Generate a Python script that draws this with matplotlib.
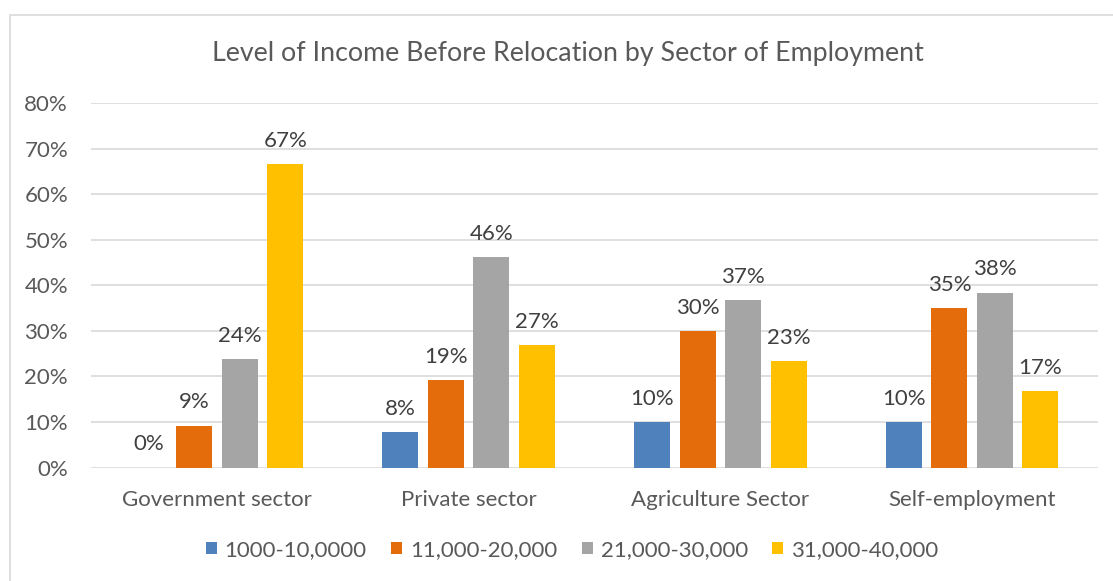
import numpy as np
import matplotlib.pyplot as plt
from matplotlib.patches import Rectangle

plt.rcParams['font.family'] = ['Lato', 'DejaVu Sans']

# Datos del gráfico
sectors = ['Government sector', 'Private sector', 'Agriculture Sector', 'Self-employment']
income_levels = ['1000-10,0000', '11,000-20,000', '21,000-30,000', '31,000-40,000']
inc_1000_10000 = [0.0, 7.7, 10.0, 10.0]
inc_11000_20000 = [9.2, 19.2, 30.0, 35.0]
inc_21000_30000 = [23.8, 46.2, 36.7, 38.4]
inc_31000_40000 = [66.7, 26.9, 23.3, 16.7]
series = [inc_1000_10000, inc_11000_20000, inc_21000_30000, inc_31000_40000]
colors = ['#4f81bd', '#e46c0a', '#a5a5a5', '#ffc000']
text_color = '#595959'

fig = plt.figure(figsize=(11.13, 5.81), dpi=100)
ax = fig.add_axes([91 / 1113, 113.5 / 581, 1007 / 1113, 364.2 / 581])

# Marco del área del gráfico
fig.patches.append(Rectangle((9.5 / 1113, -0.1), 1.2, (581 - 14.5) / 581 + 0.1,
                             transform=fig.transFigure, fill=False,
                             edgecolor='#d9d9d9', linewidth=1.2))

x = np.arange(len(sectors))
width = 0.143
pitch = 0.181
for i, (vals, col, lab) in enumerate(zip(series, colors, income_levels)):
    pos = x + (i - 1.5) * pitch
    bars = ax.bar(pos, vals, width, color=col, label=lab, zorder=3)
    for b, v in zip(bars, vals):
        ax.annotate(f'{v:.0f}%', (b.get_x() + b.get_width() / 2, v),
                    xytext=(0, 9.5), textcoords='offset points',
                    ha='center', va='bottom', fontsize=16, color='#404040')

ax.set_xlim(-0.5, 3.5)
ax.set_ylim(0, 80)
ax.set_yticks(np.arange(0, 81, 10))
ax.set_yticklabels([f'{t}%' for t in range(0, 81, 10)])
ax.set_xticks(x)
ax.set_xticklabels(sectors)
ax.tick_params(axis='both', length=0, labelsize=16, labelcolor=text_color)
ax.tick_params(axis='x', pad=16.5)
ax.tick_params(axis='y', pad=16.5)
ax.grid(axis='y', color='#d9d9d9', linewidth=1.2, zorder=0)
for s in ax.spines.values():
    s.set_visible(False)

fig.text(568 / 1113, 1 - 53 / 581, 'Level of Income Before Relocation by Sector of Employment',
         ha='center', va='center', fontsize=19.3, color=text_color)

fig.legend(loc='center', bbox_to_anchor=(572 / 1113, 1 - 550 / 581), ncol=4,
           frameon=False, fontsize=16, labelcolor=text_color, handlelength=0.5,
           handleheight=0.5, handletextpad=0.35, columnspacing=1.1)

fig.savefig('out.png', dpi=100)
